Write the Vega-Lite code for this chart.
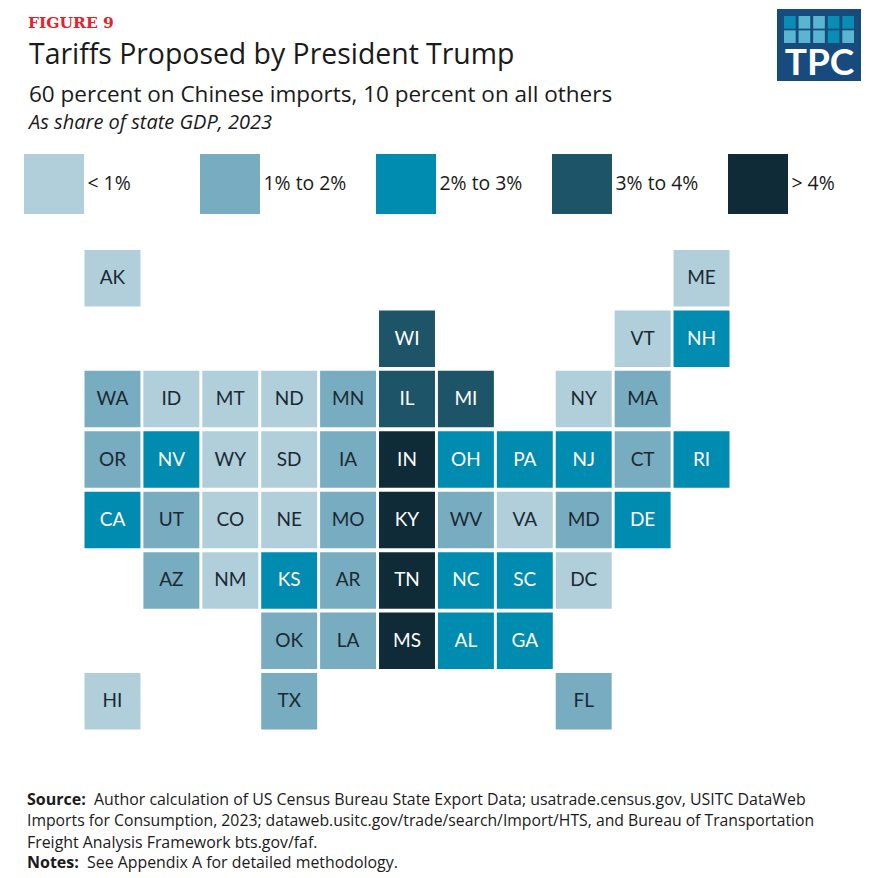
{
"$schema":"https://vega.github.io/schema/vega-lite/v6.json",
"width":876,"height":878,"padding":0,
"autosize":{"type":"fit","contains":"padding"},
"background":"#ffffff",
"config":{"view":{"stroke":null},"text":{"font":"Open Sans","align":"left","baseline":"alphabetic"}},
"datasets":{"states":[
{"state":"AK","col":0,"row":0,"bin":"< 1%"},{"state":"ME","col":10,"row":0,"bin":"< 1%"},
{"state":"WI","col":5,"row":1,"bin":"3% to 4%"},{"state":"VT","col":9,"row":1,"bin":"< 1%"},{"state":"NH","col":10,"row":1,"bin":"2% to 3%"},
{"state":"WA","col":0,"row":2,"bin":"1% to 2%"},{"state":"ID","col":1,"row":2,"bin":"< 1%"},{"state":"MT","col":2,"row":2,"bin":"< 1%"},{"state":"ND","col":3,"row":2,"bin":"< 1%"},{"state":"MN","col":4,"row":2,"bin":"1% to 2%"},{"state":"IL","col":5,"row":2,"bin":"3% to 4%"},{"state":"MI","col":6,"row":2,"bin":"3% to 4%"},{"state":"NY","col":8,"row":2,"bin":"< 1%"},{"state":"MA","col":9,"row":2,"bin":"1% to 2%"},
{"state":"OR","col":0,"row":3,"bin":"1% to 2%"},{"state":"NV","col":1,"row":3,"bin":"2% to 3%"},{"state":"WY","col":2,"row":3,"bin":"< 1%"},{"state":"SD","col":3,"row":3,"bin":"< 1%"},{"state":"IA","col":4,"row":3,"bin":"1% to 2%"},{"state":"IN","col":5,"row":3,"bin":"> 4%"},{"state":"OH","col":6,"row":3,"bin":"2% to 3%"},{"state":"PA","col":7,"row":3,"bin":"2% to 3%"},{"state":"NJ","col":8,"row":3,"bin":"2% to 3%"},{"state":"CT","col":9,"row":3,"bin":"1% to 2%"},{"state":"RI","col":10,"row":3,"bin":"2% to 3%"},
{"state":"CA","col":0,"row":4,"bin":"2% to 3%"},{"state":"UT","col":1,"row":4,"bin":"1% to 2%"},{"state":"CO","col":2,"row":4,"bin":"< 1%"},{"state":"NE","col":3,"row":4,"bin":"< 1%"},{"state":"MO","col":4,"row":4,"bin":"1% to 2%"},{"state":"KY","col":5,"row":4,"bin":"> 4%"},{"state":"WV","col":6,"row":4,"bin":"1% to 2%"},{"state":"VA","col":7,"row":4,"bin":"< 1%"},{"state":"MD","col":8,"row":4,"bin":"1% to 2%"},{"state":"DE","col":9,"row":4,"bin":"2% to 3%"},
{"state":"AZ","col":1,"row":5,"bin":"1% to 2%"},{"state":"NM","col":2,"row":5,"bin":"< 1%"},{"state":"KS","col":3,"row":5,"bin":"2% to 3%"},{"state":"AR","col":4,"row":5,"bin":"1% to 2%"},{"state":"TN","col":5,"row":5,"bin":"> 4%"},{"state":"NC","col":6,"row":5,"bin":"2% to 3%"},{"state":"SC","col":7,"row":5,"bin":"2% to 3%"},{"state":"DC","col":8,"row":5,"bin":"< 1%"},
{"state":"OK","col":3,"row":6,"bin":"1% to 2%"},{"state":"LA","col":4,"row":6,"bin":"1% to 2%"},{"state":"MS","col":5,"row":6,"bin":"> 4%"},{"state":"AL","col":6,"row":6,"bin":"2% to 3%"},{"state":"GA","col":7,"row":6,"bin":"2% to 3%"},
{"state":"HI","col":0,"row":7,"bin":"< 1%"},{"state":"TX","col":3,"row":7,"bin":"1% to 2%"},{"state":"FL","col":8,"row":7,"bin":"1% to 2%"}
],
"logo":[
{"c":0,"r":0,"tone":"deep"},{"c":1,"r":0,"tone":"light"},{"c":2,"r":0,"tone":"light"},{"c":3,"r":0,"tone":"deep"},{"c":4,"r":0,"tone":"deep"},
{"c":0,"r":1,"tone":"light"},{"c":1,"r":1,"tone":"light"},{"c":2,"r":1,"tone":"light"},{"c":3,"r":1,"tone":"deep"},{"c":4,"r":1,"tone":"light"}
]},
"resolve":{"scale":{"x":"independent","y":"independent","color":"independent"}},
"layer":[
{"data":{"name":"states"},"mark":{"type":"rect"},
 "encoding":{
 "x":{"field":"col","type":"ordinal","axis":null,"scale":{"type":"band","domain":[0,1,2,3,4,5,6,7,8,9,10],"range":[84.5,729.5],"paddingInner":0.05,"paddingOuter":0,"round":false}},
 "y":{"field":"row","type":"ordinal","axis":null,"scale":{"type":"band","domain":[0,1,2,3,4,5,6,7],"range":[250,729.5],"paddingInner":0.065,"paddingOuter":0,"round":false}},
 "color":{"field":"bin","type":"nominal","scale":{"domain":["< 1%","1% to 2%","2% to 3%","3% to 4%","> 4%"],"range":["#B0CFDB","#78ACC0","#008BB0","#1D5467","#0F2B38"]},
  "legend":{"title":null,"orient":"none","legendX":24,"legendY":154,"direction":"horizontal","columns":5,"gridAlign":"all","columnPadding":29,"padding":0,"symbolType":"square","symbolSize":3600,"symbolStrokeWidth":0,"symbolOpacity":1,"labelFont":"Open Sans","labelFontSize":19.4,"labelColor":"#1a1a1a","labelOffset":3.5,"labelLimit":200,"values":["< 1%","1% to 2%","2% to 3%","3% to 4%","> 4%"]}}
 }},
{"data":{"name":"states"},"mark":{"type":"text","align":"center","baseline":"middle","font":"Lato","fontSize":19},
 "encoding":{
 "x":{"field":"col","type":"ordinal","axis":null,"scale":{"type":"band","domain":[0,1,2,3,4,5,6,7,8,9,10],"range":[84.5,729.5],"paddingInner":0.05,"paddingOuter":0,"round":false}},
 "y":{"field":"row","type":"ordinal","axis":null,"scale":{"type":"band","domain":[0,1,2,3,4,5,6,7],"range":[250,729.5],"paddingInner":0.065,"paddingOuter":0,"round":false}},
 "text":{"field":"state"},
 "color":{"condition":{"test":"indexof(['< 1%','1% to 2%'], datum.bin) >= 0","value":"#1a2a33"},"value":"#ffffff"}
 }},
{"data":{"values":[{}]},"mark":{"type":"rect","fill":"#174B7D"},"encoding":{"x":{"value":777},"x2":{"value":861},"y":{"value":9},"y2":{"value":81}}},
{"data":{"name":"logo"},"mark":{"type":"rect"},
 "encoding":{
 "x":{"field":"c","type":"ordinal","axis":null,"scale":{"type":"band","domain":[0,1,2,3,4],"range":[784,854],"paddingInner":0.2,"paddingOuter":0,"round":false}},
 "y":{"field":"r","type":"ordinal","axis":null,"scale":{"type":"band","domain":[0,1],"range":[16,43],"paddingInner":0.12,"paddingOuter":0,"round":false}},
 "color":{"field":"tone","type":"nominal","legend":null,"scale":{"domain":["deep","light"],"range":["#0A8DB3","#5AB6D0"]}}
 }},
{"data":{"values":[{}]},"mark":{"type":"text","text":"TPC","align":"center","font":"Lato","fontWeight":"bold","fontSize":37,"fill":"#ffffff"},"encoding":{"x":{"value":819.5},"y":{"value":75}}},
{"data":{"values":[{}]},"mark":{"type":"text","text":"FIGURE 9","font":"DejaVu Serif","fontWeight":"bold","fontSize":15.5,"fill":"#E8202A"},"encoding":{"x":{"value":28},"y":{"value":28}}},
{"data":{"values":[{}]},"mark":{"type":"text","text":"Tariffs Proposed by President Trump","fontSize":28.4,"fill":"#1a1a1a"},"encoding":{"x":{"value":29},"y":{"value":64}}},
{"data":{"values":[{}]},"mark":{"type":"text","text":"60 percent on Chinese imports, 10 percent on all others","fontSize":22.5,"fill":"#1a1a1a"},"encoding":{"x":{"value":29},"y":{"value":102}}},
{"data":{"values":[{}]},"mark":{"type":"text","text":"As share of state GDP, 2023","fontSize":20,"fontStyle":"italic","fill":"#1a1a1a"},"encoding":{"x":{"value":29},"y":{"value":129}}},
{"data":{"values":[{}]},"mark":{"type":"text","text":"Source:","fontSize":16,"fontWeight":"bold","fill":"#1a1a1a"},"encoding":{"x":{"value":27},"y":{"value":805}}},
{"data":{"values":[{}]},"mark":{"type":"text","text":"Author calculation of US Census Bureau State Export Data; usatrade.census.gov, USITC DataWeb","fontSize":15.9,"fill":"#1a1a1a"},"encoding":{"x":{"value":94},"y":{"value":805}}},
{"data":{"values":[{}]},"mark":{"type":"text","text":"Imports for Consumption, 2023; dataweb.usitc.gov/trade/search/Import/HTS, and Bureau of Transportation","fontSize":15.75,"fill":"#1a1a1a"},"encoding":{"x":{"value":27},"y":{"value":826}}},
{"data":{"values":[{}]},"mark":{"type":"text","text":"Freight Analysis Framework bts.gov/faf.","fontSize":15.9,"fill":"#1a1a1a"},"encoding":{"x":{"value":27},"y":{"value":848}}},
{"data":{"values":[{}]},"mark":{"type":"text","text":"Notes:","fontSize":16,"fontWeight":"bold","fill":"#1a1a1a"},"encoding":{"x":{"value":27},"y":{"value":868}}},
{"data":{"values":[{}]},"mark":{"type":"text","text":"See Appendix A for detailed methodology.","fontSize":15.9,"fill":"#1a1a1a"},"encoding":{"x":{"value":87},"y":{"value":868}}}
]
}
